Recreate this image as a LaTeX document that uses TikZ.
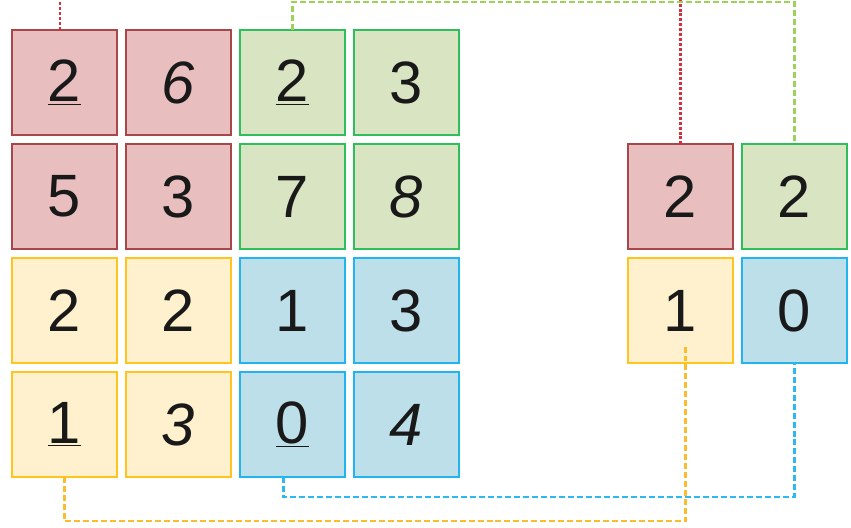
\documentclass[tikz,border=0pt]{standalone}
\usepackage{fontspec}
\setmainfont{Liberation Sans}
\usetikzlibrary{positioning}
\definecolor{cred}{HTML}{E8BFBE}
\definecolor{credline}{HTML}{A8474A}
\definecolor{cgreen}{HTML}{D9E5C2}
\definecolor{cgreenline}{HTML}{2EBE5C}
\definecolor{cyellow}{HTML}{FFF1CE}
\definecolor{cyellowline}{HTML}{FFC41E}
\definecolor{cblue}{HTML}{BCDFE9}
\definecolor{cblueline}{HTML}{22B4EE}
\definecolor{lred}{HTML}{D2303E}
\definecolor{lgreen}{HTML}{9CD25A}
\definecolor{lyellow}{HTML}{FBBD2C}
\definecolor{lblue}{HTML}{2CB8F0}
\tikzset{
  cell/.style={rectangle, draw, line width=1.1pt, minimum size=2.1cm, inner sep=0pt,
               outer sep=0pt, text=black!90, font=\fontsize{34}{40}\selectfont},
  redcell/.style={cell, draw=credline, fill=cred},
  greencell/.style={cell, draw=cgreenline, fill=cgreen},
  yellowcell/.style={cell, draw=cyellowline, fill=cyellow},
  bluecell/.style={cell, draw=cblueline, fill=cblue},
  link/.style={line width=1.2pt, dash pattern=on 3.4pt off 1.7pt},
  dotlink/.style={line width=1.2pt, dash pattern=on 1.7pt off 1.1pt}
}
\begin{document}
\begin{tikzpicture}[node distance=0.18cm]
  \useasboundingbox (0,0) rectangle (17.02,-10.56);
  \clip (0,0) rectangle (17.02,-10.56);
  \node[redcell] (c00) at (1.29,-1.65) {\underline{2}};
  \node[redcell, right=of c00] (c01) {\itshape 6};
  \node[greencell, right=of c01] (c02) {\underline{2}};
  \node[greencell, right=of c02] (c03) {3};
  \node[redcell, below=of c00] (c10) {5};
  \node[redcell, right=of c10] (c11) {3};
  \node[greencell, right=of c11] (c12) {7};
  \node[greencell, right=of c12] (c13) {\itshape 8};
  \node[yellowcell, below=of c10] (c20) {2};
  \node[yellowcell, right=of c20] (c21) {2};
  \node[bluecell, right=of c21] (c22) {1};
  \node[bluecell, right=of c22] (c23) {3};
  \node[yellowcell, below=of c20] (c30) {\underline{1}};
  \node[yellowcell, right=of c30] (c31) {\itshape 3};
  \node[bluecell, right=of c31] (c32) {\underline{0}};
  \node[bluecell, right=of c32] (c33) {\itshape 4};

  \node[redcell, right=3.38cm of c13] (r00) {2};
  \node[greencell, right=of r00] (r01) {2};
  \node[yellowcell, below=of r00] (r10) {1};
  \node[bluecell, right=of r10] (r11) {0};

  \draw[dotlink, lred] ([xshift=-0.09cm]c00.north) -- ++(0,0.8) -| (r00.north);
  \draw[link, lgreen] (c02.north) -- ++(0,0.56) -| (r01.north);
  \draw[link, lyellow] (c30.south) -- ++(0,-0.88) -| ([xshift=0.1cm,yshift=0.32cm]r10.south);
  \draw[link, lblue] ([xshift=-0.18cm]c32.south) -- ++(0,-0.4) -| (r11.south);
\end{tikzpicture}
\end{document}
